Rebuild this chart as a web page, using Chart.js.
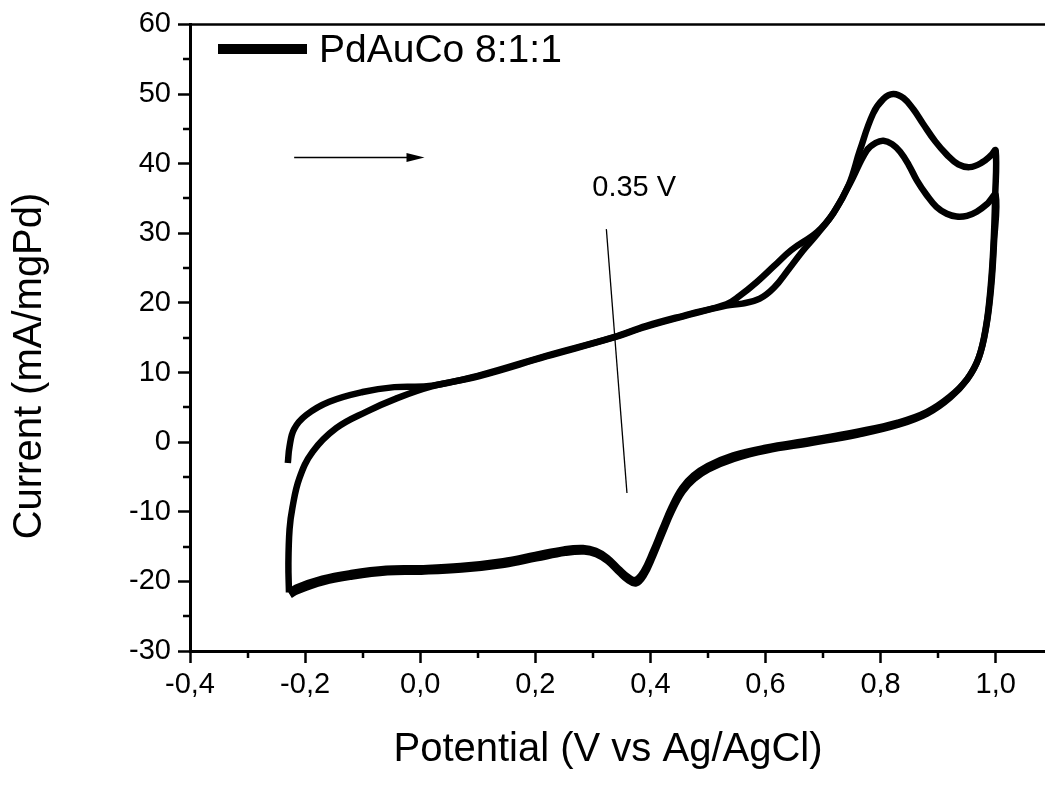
<!DOCTYPE html>
<html>
<head>
<meta charset="utf-8">
<script src="https://cdn.jsdelivr.net/npm/chart.js@4.4.1/dist/chart.umd.min.js"></script>
<style>
  html, body { margin: 0; padding: 0; background: #fff; }
  canvas { display: block; }
</style>
</head>
<body>
<canvas id="cv" width="1045" height="790"></canvas>
<script>
// --- data (Potential in V, Current in mA/mgPd) ---
const seriesName = 'PdAuCo 8:1:1';

// cycle 1, anodic sweep (-0.23 V -> 1.0 V)
const c1ForwardV = [-0.230, -0.227, -0.219, -0.198, -0.158, -0.100, -0.045, 0.020, 0.103, 0.219, 0.335, 0.393, 0.468, 0.532, 0.555, 0.585, 0.615, 0.645, 0.690, 0.718, 0.745, 0.764, 0.787, 0.805, 0.822, 0.840, 0.857, 0.874, 0.895, 0.915, 0.935, 0.955, 0.975, 0.992];
const c1ForwardI = [-3.0, -0.6, 1.9, 3.9, 5.8, 7.2, 7.9, 8.1, 9.6, 12.4, 15.05, 16.7, 18.4, 19.8, 21.0, 23.0, 25.3, 27.6, 30.2, 32.9, 37.0, 41.9, 47.2, 49.3, 50.0, 49.4, 47.8, 45.7, 43.2, 41.3, 39.9, 39.5, 40.1, 41.2];

// cycle 1, cathodic sweep (1.0 V -> -0.23 V)
const c1ReverseV = [1.000, 0.999, 0.996, 0.991, 0.983, 0.970, 0.950, 0.920, 0.880, 0.830, 0.760, 0.680, 0.600, 0.544, 0.500, 0.475, 0.455, 0.437, 0.420, 0.404, 0.388, 0.374, 0.360, 0.345, 0.325, 0.305, 0.283, 0.250, 0.200, 0.144, 0.070, 0.000, -0.059, -0.120, -0.170, -0.216, -0.228];
const c1ReverseI = [41.9, 35.0, 28.0, 22.0, 16.5, 12.0, 9.0, 6.5, 4.3, 2.8, 1.5, 0.3, -0.8, -1.9, -3.4, -4.8, -6.6, -9.3, -12.6, -15.8, -18.6, -19.8, -19.3, -18.2, -16.6, -15.6, -15.2, -15.4, -16.2, -17.1, -17.8, -18.1, -18.2, -18.8, -19.6, -20.9, -21.6];

// cycle 2, anodic sweep
const c2ForwardV = [-0.228, -0.229, -0.227, -0.222, -0.210, -0.187, -0.146, -0.094, -0.042, 0.020, 0.103, 0.219, 0.335, 0.393, 0.468, 0.532, 0.560, 0.590, 0.615, 0.640, 0.665, 0.690, 0.718, 0.747, 0.776, 0.792, 0.805, 0.820, 0.834, 0.849, 0.863, 0.880, 0.897, 0.915, 0.932, 0.950, 0.967, 0.985, 1.000];
const c2ForwardI = [-21.6, -17.5, -12.5, -9.4, -5.2, -1.4, 2.0, 4.35, 6.25, 8.0, 9.5, 12.3, 15.0, 16.6, 18.3, 19.6, 19.9, 20.6, 22.2, 24.8, 27.5, 29.9, 32.9, 37.2, 41.9, 43.0, 43.3, 42.8, 41.7, 39.8, 37.6, 35.5, 33.8, 32.8, 32.4, 32.5, 33.1, 34.2, 35.5];

// cycle 2, cathodic sweep
const c2ReverseV = [0.997, 0.992, 0.984, 0.971, 0.951, 0.921, 0.881, 0.831, 0.761, 0.681, 0.601, 0.545, 0.501, 0.476, 0.456, 0.438, 0.421, 0.405, 0.389, 0.375, 0.361, 0.346, 0.326, 0.306, 0.285, 0.252, 0.202, 0.146, 0.072, 0.002, -0.057, -0.118, -0.168, -0.214, -0.226];
const c2ReverseI = [28.5, 22.2, 16.8, 12.2, 9.1, 6.4, 4.1, 2.5, 1.1, -0.1, -1.2, -2.4, -3.9, -5.3, -7.1, -9.8, -13.1, -16.3, -19.1, -20.3, -19.8, -18.7, -17.1, -16.1, -15.7, -15.9, -16.7, -17.6, -18.3, -18.6, -18.7, -19.3, -20.1, -21.4, -22.0];

// axes
const xMin = -0.4, xMax = 1.0857, xStep = 0.2, xMinorStep = 0.1;
const yMin = -30, yMax = 60, yStep = 10, yMinorStep = 5;
const xTitle = 'Potential (V vs Ag/AgCl)';
const yTitle = 'Current (mA/mgPd)';

// annotations (data units)
const scanArrow = { from: [-0.219, 40.9], to: [0.0075, 40.9] };
const peakLabel = { text: '0.35 V', at: [0.299, 35.4] };
const peakLine = { from: [0.3235, 30.6], to: [0.3593, -7.3] };

const FONT = "'Liberation Sans', Arial, sans-serif";

function toPoints(vs, is) {
    return vs.map((v, i) => ({ x: v, y: is[i] }));
}

const cycle1 = toPoints(c1ForwardV, c1ForwardI).concat(toPoints(c1ReverseV, c1ReverseI));
const cycle2 = toPoints(c2ForwardV, c2ForwardI).concat(toPoints(c2ReverseV, c2ReverseI));

const fmtComma = (v) => v.toFixed(1).replace('.', ',');

// minor ticks, frame, annotations, legend, titles
const decorations = {
    id: 'decorations',
    afterDraw(chart) {
        const ctx = chart.ctx;
        const xs = chart.scales.x, ys = chart.scales.y;
        const area = chart.chartArea;
        ctx.save();
        ctx.strokeStyle = '#000';
        ctx.fillStyle = '#000';

        // top frame line
        ctx.lineWidth = 2.5;
        ctx.beginPath();
        ctx.moveTo(area.left - 1, area.top);
        ctx.lineTo(area.right, area.top);
        ctx.stroke();

        // minor ticks
        ctx.lineWidth = 2.5;
        ctx.beginPath();
        for (let v = xMin + xMinorStep; v < xMax; v += xStep) {
            const px = Math.round(xs.getPixelForValue(v));
            ctx.moveTo(px, area.bottom);
            ctx.lineTo(px, area.bottom + 7);
        }
        for (let v = yMin + yMinorStep; v < yMax; v += yStep) {
            const py = Math.round(ys.getPixelForValue(v));
            ctx.moveTo(area.left, py);
            ctx.lineTo(area.left - 7, py);
        }
        ctx.stroke();

        // scan direction arrow
        const ax0 = xs.getPixelForValue(scanArrow.from[0]), ay = ys.getPixelForValue(scanArrow.from[1]);
        const ax1 = xs.getPixelForValue(scanArrow.to[0]);
        ctx.lineWidth = 1.5;
        ctx.beginPath();
        ctx.moveTo(ax0, ay);
        ctx.lineTo(ax1 - 14, ay);
        ctx.stroke();
        ctx.beginPath();
        ctx.moveTo(ax1, ay);
        ctx.lineTo(ax1 - 18, ay - 4.5);
        ctx.lineTo(ax1 - 18, ay + 4.5);
        ctx.closePath();
        ctx.fill();

        // peak marker line
        ctx.lineWidth = 1.3;
        ctx.beginPath();
        ctx.moveTo(xs.getPixelForValue(peakLine.from[0]), ys.getPixelForValue(peakLine.from[1]));
        ctx.lineTo(xs.getPixelForValue(peakLine.to[0]), ys.getPixelForValue(peakLine.to[1]));
        ctx.stroke();

        ctx.font = '29px ' + FONT;
        ctx.textAlign = 'left';
        ctx.textBaseline = 'alphabetic';
        ctx.fillText(peakLabel.text, xs.getPixelForValue(peakLabel.at[0]), ys.getPixelForValue(peakLabel.at[1]));

        // legend
        ctx.lineWidth = 10;
        ctx.beginPath();
        ctx.moveTo(218, 49);
        ctx.lineTo(307, 49);
        ctx.stroke();
        ctx.font = '39px ' + FONT;
        ctx.textBaseline = 'middle';
        ctx.fillText(seriesName, 319, 51);

        // axis titles
        ctx.font = '40px ' + FONT;
        ctx.textAlign = 'center';
        ctx.fillText(xTitle, 608, 750);
        ctx.save();
        ctx.translate(30, 366);
        ctx.rotate(-Math.PI / 2);
        ctx.fillText(yTitle, 0, 0);
        ctx.restore();

        ctx.restore();
    }
};

const lineStyle = {
    showLine: true,
    borderColor: '#000',
    backgroundColor: '#000',
    borderWidth: 6.5,
    pointRadius: 0,
    tension: 0.4,
    borderJoinStyle: 'round',
    fill: false
};

new Chart(document.getElementById('cv'), {
    type: 'scatter',
    data: {
        datasets: [
            Object.assign({ label: seriesName, data: cycle1 }, lineStyle),
            Object.assign({ label: seriesName + ' (2)', data: cycle2 }, lineStyle)
        ]
    },
    options: {
        responsive: false,
        animation: false,
        devicePixelRatio: 1,
        layout: { padding: { top: 20, right: 0, left: 0, bottom: 0 } },
        plugins: { legend: { display: false }, tooltip: { enabled: false } },
        scales: {
            x: {
                type: 'linear', min: xMin, max: xMax,
                afterFit: (s) => { s.height = 139; },
                grid: { drawOnChartArea: false, tickLength: 12, tickWidth: 2.5, tickColor: '#000' },
                border: { color: '#000', width: 3 },
                ticks: {
                    stepSize: xStep, includeBounds: false, autoSkip: false, maxRotation: 0,
                    color: '#000', padding: 5, font: { size: 29, family: FONT },
                    callback: (v) => fmtComma(v)
                }
            },
            y: {
                type: 'linear', min: yMin, max: yMax,
                afterFit: (s) => { s.width = 190; },
                grid: { drawOnChartArea: false, tickLength: 12, tickWidth: 2.5, tickColor: '#000' },
                border: { color: '#000', width: 3 },
                ticks: {
                    stepSize: yStep, autoSkip: false,
                    color: '#000', padding: 7, font: { size: 29, family: FONT }
                }
            }
        }
    },
    plugins: [decorations]
});
</script>
</body>
</html>
